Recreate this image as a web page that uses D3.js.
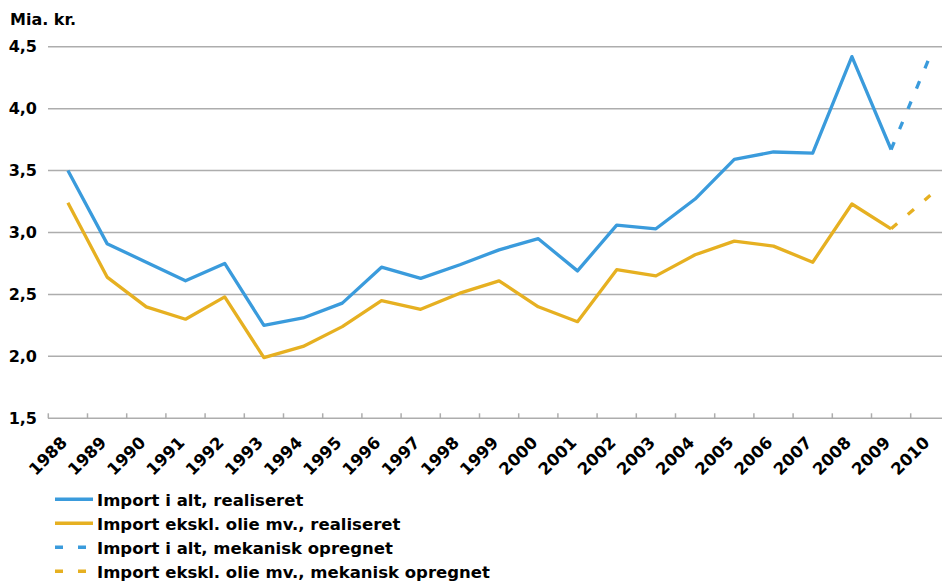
<!DOCTYPE html>
<html>
<head>
<meta charset="utf-8">
<script src="https://cdn.jsdelivr.net/npm/d3@7"></script>
<style>
  body { margin: 0; background: #fff; overflow: hidden; }
  text { font-family: "DejaVu Sans", sans-serif; font-weight: bold; fill: #000; }
</style>
</head>
<body>
<script>
'use strict';

var years = ["1988", "1989", "1990", "1991", "1992", "1993", "1994", "1995", "1996", "1997", "1998",
             "1999", "2000", "2001", "2002", "2003", "2004", "2005", "2006", "2007", "2008", "2009", "2010"];
var importTotal = [3.50, 2.91, 2.76, 2.61, 2.75, 2.25, 2.31, 2.43, 2.72, 2.63, 2.74,
                   2.86, 2.95, 2.69, 3.06, 3.03, 3.27, 3.59, 3.65, 3.64, 4.42, 3.67, null];
var importExOil = [3.24, 2.64, 2.40, 2.30, 2.48, 1.99, 2.08, 2.24, 2.45, 2.38, 2.51,
                   2.61, 2.40, 2.28, 2.70, 2.65, 2.82, 2.93, 2.89, 2.76, 3.23, 3.03, null];
var importTotalCalc = [null, null, null, null, null, null, null, null, null, null, null,
                       null, null, null, null, null, null, null, null, null, null, 3.67, 4.43];
var importExOilCalc = [null, null, null, null, null, null, null, null, null, null, null,
                       null, null, null, null, null, null, null, null, null, null, 3.03, 3.30];
var yTicks = [1.5, 2.0, 2.5, 3.0, 3.5, 4.0, 4.5];
var seriesNames = ["Import i alt, realiseret", "Import ekskl. olie mv., realiseret",
                   "Import i alt, mekanisk opregnet", "Import ekskl. olie mv., mekanisk opregnet"];

var myChart = {};
myChart.width = 942;
myChart.height = 582;
myChart.blue = "#3a9bdc";
myChart.yellow = "#e6b021";

myChart.series = [
    {name: seriesNames[0], values: importTotal, color: myChart.blue, dash: null},
    {name: seriesNames[1], values: importExOil, color: myChart.yellow, dash: null},
    {name: seriesNames[2], values: importTotalCalc, color: myChart.blue, dash: "8,14"},
    {name: seriesNames[3], values: importExOilCalc, color: myChart.yellow, dash: "8,14"}
];

myChart.xScale = d3.scaleBand()
    .domain(years)
    .range([48.3, 48.3 + 39.2 * years.length]);

myChart.yScale = d3.scaleLinear()
    .domain([1.5, 4.5])
    .range([418.3, 46.7]);

myChart.appendSvg = function(domObj){
    return d3.select(domObj)
        .append("svg")
        .attr("width", myChart.width)
        .attr("height", myChart.height);
}

myChart.appendGrid = function(svg){
    var x = myChart.xScale, y = myChart.yScale;

    svg.selectAll(".grid")
        .data(yTicks.slice(1))
        .enter()
            .append("line")
            .attr("x1", 48)
            .attr("x2", myChart.width)
            .attr("y1", function(d){ return y(d); })
            .attr("y2", function(d){ return y(d); })
            .attr("stroke", "#adadad")
            .attr("stroke-width", 1.5);

    // x axis, ticks point up into the plot
    var axis = svg.append("g")
        .attr("transform", "translate(0," + y(1.5) + ")");
    axis.append("line")
        .attr("x1", 48).attr("x2", myChart.width)
        .attr("stroke", "#adadad").attr("stroke-width", 1.5);
    axis.selectAll(".boundary")
        .data(years)
        .enter()
            .append("line")
            .attr("x1", function(d){ return x(d); })
            .attr("x2", function(d){ return x(d); })
            .attr("y1", -5).attr("y2", 0)
            .attr("stroke", "#adadad").attr("stroke-width", 1.5);

    svg.selectAll(".ylabel")
        .data(yTicks)
        .enter()
            .append("text")
            .attr("x", 37)
            .attr("y", function(d){ return y(d); })
            .attr("dy", "0.36em")
            .attr("text-anchor", "end")
            .style("font-size", "16px")
            .text(function(d){ return d3.format(".1f")(d).replace(".", ","); });

    svg.selectAll(".xlabel")
        .data(years)
        .enter()
            .append("text")
            .attr("transform", function(d){
                return "translate(" + (x(d) + x.bandwidth() / 2 - 4) + "," + 439.5 + ") rotate(-45)";
            })
            .attr("dy", "0.36em")
            .attr("text-anchor", "end")
            .style("font-size", "16.5px")
            .text(function(d){ return d; });

    svg.append("text")
        .attr("x", 10)
        .attr("y", 25)
        .style("font-size", "16px")
        .text("Mia. kr.");
}

myChart.appendLines = function(svg){
    var x = myChart.xScale, y = myChart.yScale;
    var line = d3.line()
        .defined(function(d){ return d != null; })
        .x(function(d, i){ return x(years[i]) + x.bandwidth() / 2; })
        .y(function(d){ return y(d); });

    svg.selectAll(".series")
        .data(myChart.series)
        .enter()
            .append("path")
            .attr("d", function(s){ return line(s.values); })
            .attr("fill", "none")
            .attr("stroke", function(s){ return s.color; })
            .attr("stroke-width", 3.3)
            .attr("stroke-dasharray", function(s){ return s.dash; })
            .attr("stroke-linejoin", "round");
}

myChart.appendLegend = function(svg){
    var rows = svg.selectAll(".legend")
        .data(myChart.series)
        .enter()
            .append("g")
            .attr("transform", function(d, i){ return "translate(55," + (499.3 + i * 24) + ")"; });

    rows.append("line")
        .attr("x1", 0).attr("x2", 38)
        .attr("stroke", function(s){ return s.color; })
        .attr("stroke-width", 3.5)
        .attr("stroke-dasharray", function(s){ return s.dash ? "8,15" : null; });

    rows.append("text")
        .attr("x", 42)
        .attr("dy", "0.4em")
        .style("font-size", "16.5px")
        .text(function(s){ return s.name; });
}

myChart.run = function(){
    var svg = myChart.appendSvg("body");
    myChart.appendGrid(svg);
    myChart.appendLines(svg);
    myChart.appendLegend(svg);
}

window.onload = myChart.run;
</script>
</body>
</html>
